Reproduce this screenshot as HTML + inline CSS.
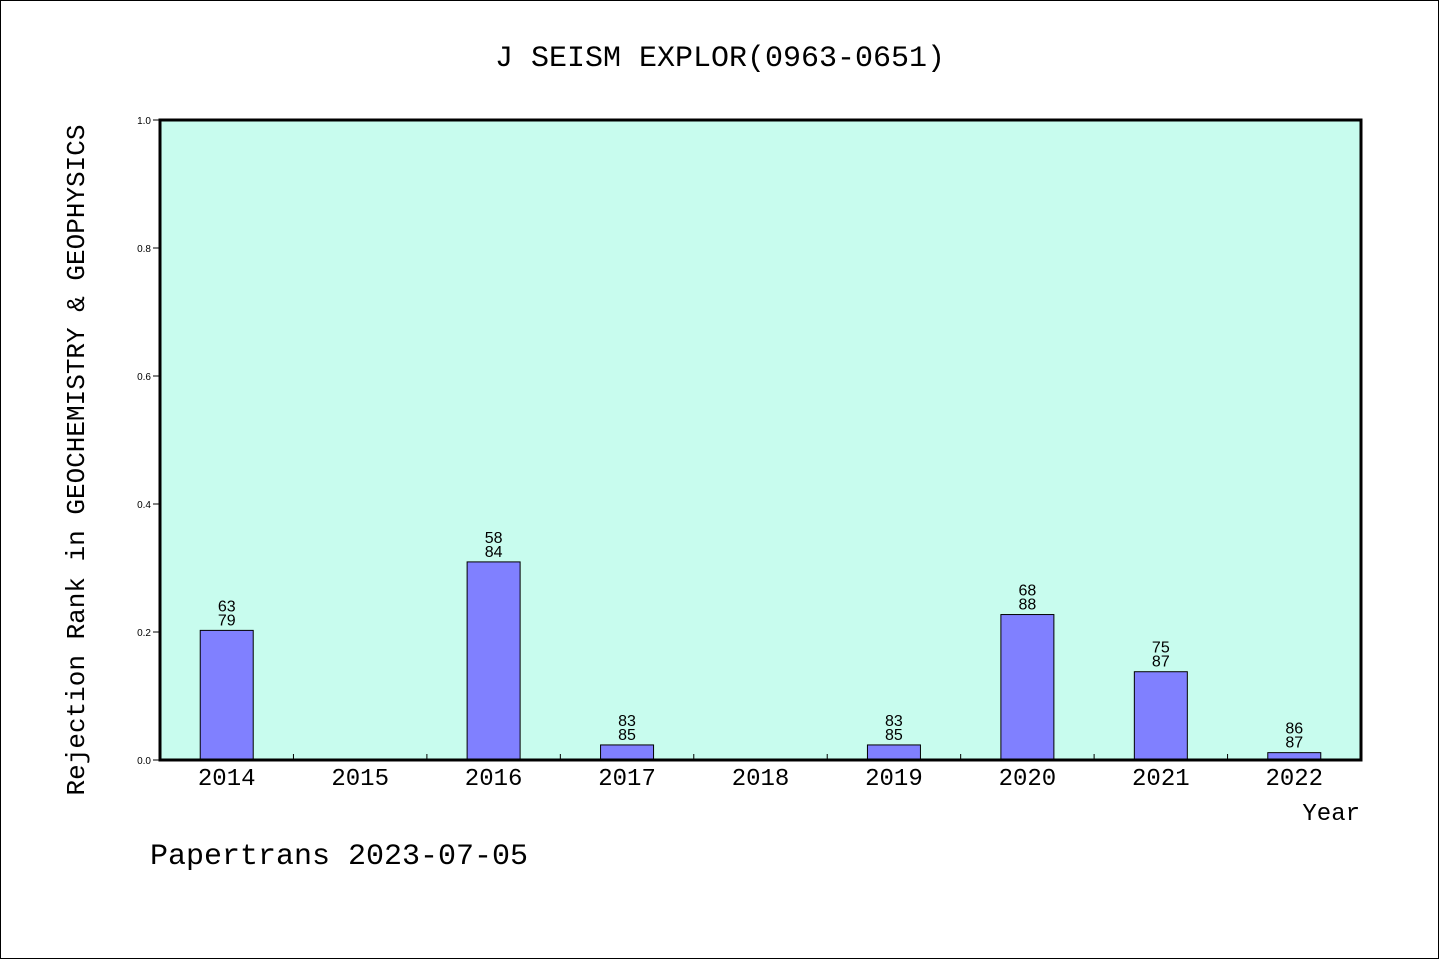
<!DOCTYPE html>
<html><head><meta charset="utf-8"><style>
html,body{margin:0;padding:0;background:#fff}
svg{display:block}
text{font-family:"Liberation Mono","DejaVu Sans Mono",monospace;fill:#000}
</style></head><body>
<svg id="chart" width="1440" height="960" xmlns="http://www.w3.org/2000/svg">
<rect x="0.5" y="0.5" width="1438" height="958" fill="#fff" stroke="#000" stroke-width="1"/>
<text x="720" y="66" text-anchor="middle" font-size="30">J SEISM EXPLOR(0963-0651)</text>
<rect x="160" y="120" width="1201" height="640" fill="#c8fcee"/>
<g id="bars"></g>
<g id="axes"></g>
<rect x="160" y="120" width="1201" height="640" fill="none" stroke="#000" stroke-width="3"/>
<text transform="translate(84,460) rotate(-90)" text-anchor="middle" font-size="26">Rejection Rank in GEOCHEMISTRY &amp; GEOPHYSICS</text>
<text x="1360" y="820" text-anchor="end" font-size="24">Year</text>
<text x="150" y="864" font-size="30">Papertrans 2023-07-05</text>
</svg>
<script>
const years = ['2014','2015','2016','2017','2018','2019','2020','2021','2022'];
const ranks = [63, null, 58, 83, null, 83, 68, 75, 86];
const totals = [79, null, 84, 85, null, 85, 88, 87, 87];
const yTicks = [0, 0.2, 0.4, 0.6, 0.8, 1.0];
const yTickLabels = ['0.0','0.2','0.4','0.6','0.8','1.0'];

const NS = 'http://www.w3.org/2000/svg';
const X0 = 160, X1 = 1361, Y0 = 760, Y1 = 120;
const band = (X1 - X0) / years.length;
const xc = i => X0 + band * (i + 0.5);
const y = v => Y0 - (Y0 - Y1) * v;
function mk(tag, attrs, parent, txt) {
  const e = document.createElementNS(NS, tag);
  for (const k in attrs) e.setAttribute(k, attrs[k]);
  if (txt !== undefined) e.textContent = txt;
  parent.appendChild(e);
  return e;
}
const bars = document.getElementById('bars');
const axes = document.getElementById('axes');
years.forEach((yr, i) => {
  const lbl = mk('text', {x: xc(i), y: 785, 'text-anchor': 'middle', 'font-size': 24}, axes, yr);
  
  
  if (i > 0) {
    const t = mk('line', {x1: X0 + band * i, x2: X0 + band * i, y1: Y0, y2: Y0 - 6, stroke: '#000', 'stroke-width': 1}, axes);
    
    
  }
  if (ranks[i] == null) return;
  const v = 1 - ranks[i] / totals[i];
  const w = 53;
  const r = mk('rect', {x: xc(i) - w / 2, y: y(v), width: w, height: Y0 - y(v), fill: '#8080ff', stroke: '#000', 'stroke-width': 1}, bars);
  
  
  const a = mk('text', {x: xc(i), y: y(v) - 19, 'text-anchor': 'middle', 'font-size': 16, style: 'font-family:"Liberation Sans",sans-serif'}, bars, ranks[i]);
  
  
  const b = mk('text', {x: xc(i), y: y(v) - 5, 'text-anchor': 'middle', 'font-size': 16, style: 'font-family:"Liberation Sans",sans-serif'}, bars, totals[i]);
  
  
});
yTicks.forEach((v, i) => {
  const t = mk('line', {x1: 153, x2: X0, y1: y(v), y2: y(v), stroke: '#000', 'stroke-width': 1}, axes);
  
  
  const l = mk('text', {x: 151, y: y(v) + 4, 'text-anchor': 'end', 'font-size': 10, style: 'font-family:"Liberation Sans",sans-serif'}, axes, yTickLabels[i]);
  
  
});
</script>
</body></html>
